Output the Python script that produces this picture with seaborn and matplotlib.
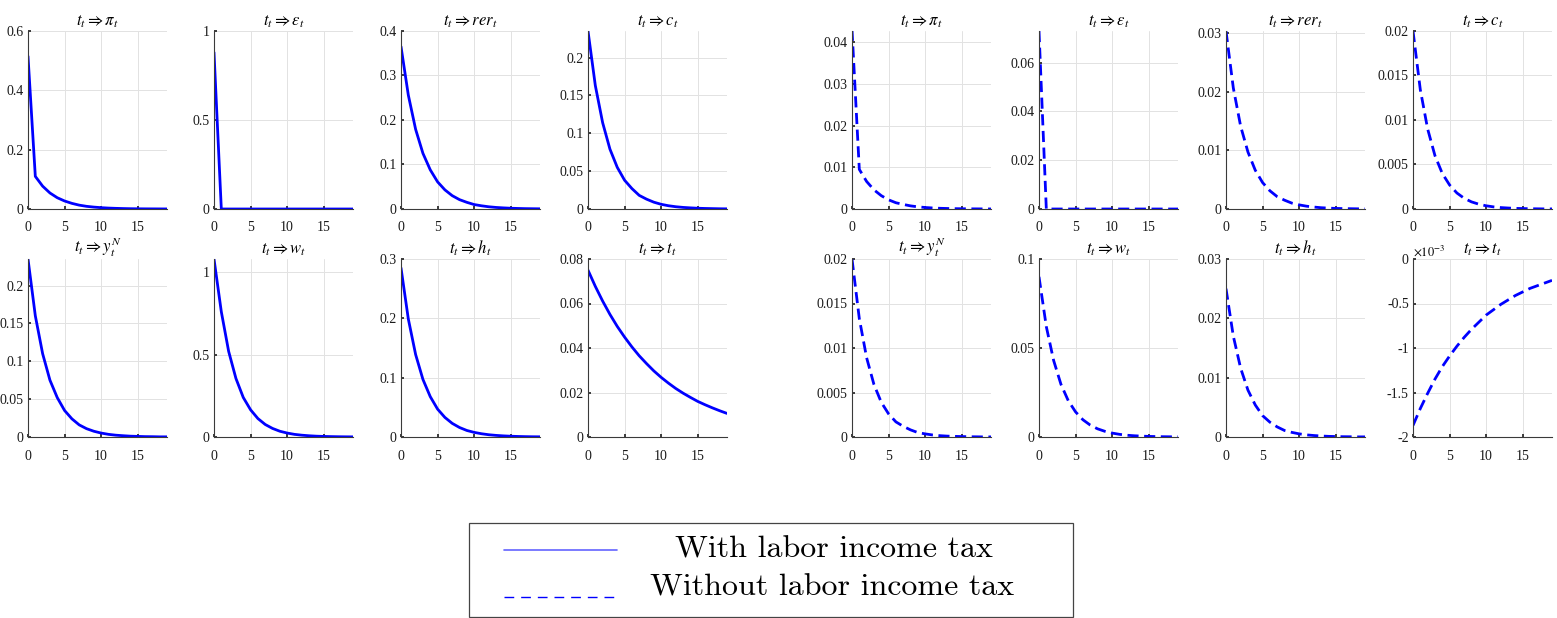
import matplotlib.pyplot as plt
import numpy as np
import seaborn as sns
from matplotlib.legend_handler import HandlerLine2D
from matplotlib.lines import Line2D
from matplotlib.patches import Rectangle
from matplotlib.ticker import FuncFormatter

# impulse responses to a labor income tax shock, horizon 0..19
periods = list(range(20))

titles = [
    r"$t_t \Rightarrow \pi_t$", r"$t_t \Rightarrow \varepsilon_t$",
    r"$t_t \Rightarrow rer_t$", r"$t_t \Rightarrow c_t$",
    r"$t_t \Rightarrow y_t^N$", r"$t_t \Rightarrow w_t$",
    r"$t_t \Rightarrow h_t$", r"$t_t \Rightarrow t_t$",
]

# with labor income tax (solid)
pi_with = [0.515, 0.11, 0.077, 0.054, 0.038, 0.027, 0.019, 0.013, 0.009, 0.0064,
           0.0045, 0.0031, 0.0022, 0.0015, 0.001, 0.0007, 0.0005, 0.0004, 0.0003, 0.0002]
eps_with = [0.88, 0, 0, 0, 0, 0, 0, 0, 0, 0, 0, 0, 0, 0, 0, 0, 0, 0, 0, 0]
rer_with = [0.365, 0.256, 0.179, 0.125, 0.088, 0.061, 0.043, 0.030, 0.021, 0.015,
            0.010, 0.0072, 0.0050, 0.0035, 0.0025, 0.0017, 0.0012, 0.0008, 0.0006, 0.0004]
c_with = [0.235, 0.163, 0.114, 0.079, 0.055, 0.038, 0.027, 0.018, 0.013, 0.009,
          0.0062, 0.0043, 0.003, 0.0021, 0.0015, 0.001, 0.0007, 0.0005, 0.0003, 0.0002]
yn_with = [0.235, 0.160, 0.110, 0.075, 0.052, 0.035, 0.024, 0.016, 0.011, 0.0076,
           0.0052, 0.0035, 0.0024, 0.0017, 0.0011, 0.0008, 0.0005, 0.0004, 0.0002, 0.0002]
w_with = [1.08, 0.76, 0.52, 0.355, 0.24, 0.165, 0.112, 0.076, 0.052, 0.035,
          0.024, 0.016, 0.011, 0.0075, 0.005, 0.0035, 0.0024, 0.0016, 0.0011, 0.0008]
h_with = [0.285, 0.199, 0.139, 0.097, 0.068, 0.047, 0.033, 0.023, 0.016, 0.011,
          0.0078, 0.0055, 0.0038, 0.0027, 0.0019, 0.0013, 0.0009, 0.0006, 0.0004, 0.0003]
tax_with = [0.075, 0.0677, 0.0611, 0.0551, 0.0497, 0.0449, 0.0405, 0.0365, 0.0330, 0.0297,
            0.0268, 0.0242, 0.0218, 0.0197, 0.0178, 0.0160, 0.0145, 0.0131, 0.0118, 0.0106]

# without labor income tax (dashed)
pi_without = [0.043, 0.0095, 0.0066, 0.0046, 0.0032, 0.0022, 0.0015, 0.0011, 0.00075, 0.00052,
              0.00036, 0.00025, 0.00017, 0.00012, 0.00008, 0.00006, 0.00004, 0.00003, 0.00002, 0.00001]
eps_without = [0.073, 0, 0, 0, 0, 0, 0, 0, 0, 0, 0, 0, 0, 0, 0, 0, 0, 0, 0, 0]
rer_without = [0.0303, 0.0206, 0.0141, 0.0097, 0.0066, 0.0045, 0.0031, 0.0021, 0.0015, 0.001,
               0.0007, 0.00048, 0.00033, 0.00022, 0.00015, 0.0001, 0.00007, 0.00005, 0.00003, 0.00002]
c_without = [0.020, 0.0134, 0.0090, 0.0060, 0.0040, 0.0027, 0.0018, 0.0012, 0.0008, 0.00054,
             0.00036, 0.00024, 0.00016, 0.00011, 0.00007, 0.00005, 0.00003, 0.00002, 0.00001, 0.00001]
yn_without = [0.020, 0.0133, 0.0089, 0.0059, 0.0039, 0.0026, 0.0017, 0.0012, 0.0008, 0.0005,
              0.00035, 0.00023, 0.00015, 0.0001, 0.00007, 0.00005, 0.00003, 0.00002, 0.00001, 0.00001]
w_without = [0.090, 0.062, 0.043, 0.0296, 0.0204, 0.0141, 0.0097, 0.0067, 0.0046, 0.0032,
             0.0022, 0.0015, 0.001, 0.0007, 0.0005, 0.00034, 0.00024, 0.00016, 0.00011, 0.00008]
h_without = [0.025, 0.017, 0.0116, 0.0079, 0.0054, 0.0036, 0.0025, 0.0017, 0.0011, 0.00078,
             0.00053, 0.00036, 0.00025, 0.00017, 0.00011, 0.00008, 0.00005, 0.00004, 0.00002, 0.00002]
tax_without = [-0.00187, -0.00168, -0.00151, -0.00135, -0.00121, -0.00109, -0.00098, -0.00088,
               -0.00079, -0.00071, -0.00063, -0.00057, -0.00051, -0.00046, -0.00041, -0.00037,
               -0.00033, -0.00030, -0.00027, -0.00024]

legend_labels = ["With labor income tax", "Without labor income tax"]

with_tax = [pi_with, eps_with, rer_with, c_with, yn_with, w_with, h_with, tax_with]
without_tax = [pi_without, eps_without, rer_without, c_without,
               yn_without, w_without, h_without, tax_without]

# axis limits / ticks per panel
ylims_with = [(0, 0.6), (0, 1), (0, 0.4), (0, 0.235), (0, 0.235), (0, 1.08), (0, 0.3), (0, 0.08)]
yticks_with = [[0, 0.2, 0.4, 0.6], [0, 0.5, 1], [0, 0.1, 0.2, 0.3, 0.4],
               [0, 0.05, 0.1, 0.15, 0.2], [0, 0.05, 0.1, 0.15, 0.2], [0, 0.5, 1],
               [0, 0.1, 0.2, 0.3], [0, 0.02, 0.04, 0.06, 0.08]]
ylims_without = [(0, 0.0427), (0, 0.073), (0, 0.0303), (0, 0.02), (0, 0.02), (0, 0.1),
                 (0, 0.03), (-0.002, 0)]
yticks_without = [[0, 0.01, 0.02, 0.03, 0.04], [0, 0.02, 0.04, 0.06], [0, 0.01, 0.02, 0.03],
                  [0, 0.005, 0.01, 0.015, 0.02], [0, 0.005, 0.01, 0.015, 0.02],
                  [0, 0.05, 0.1], [0, 0.01, 0.02, 0.03],
                  [-0.002, -0.0015, -0.001, -0.0005, 0]]

sns.set_theme(style="whitegrid", rc={
    "axes.edgecolor": "#3a3a3a", "axes.linewidth": 0.8,
    "grid.color": "#e2e2e2", "grid.linewidth": 0.7,
    "xtick.direction": "in", "ytick.direction": "in",
    "xtick.major.size": 2.5, "ytick.major.size": 2.5,
    "xtick.bottom": True, "ytick.left": True,
    "xtick.color": "#262626", "ytick.color": "#262626",
    "text.color": "black",
    "axes.spines.top": False, "axes.spines.right": False,
})
plt.rcParams["font.family"] = ["Liberation Serif", "DejaVu Serif"]
plt.rcParams["mathtext.fontset"] = "stix"

W, H = 1557, 618
fig = plt.figure(figsize=(W / 100, H / 100), dpi=100)

col_left = [28, 214, 401, 588, 852, 1039, 1226, 1413]
row_top = [31, 259]
ax_w, ax_h = 139, 178

groups = [
    (with_tax, ylims_with, yticks_with, "-"),
    (without_tax, ylims_without, yticks_without, (0, (4, 2))),
]

for g, (series, ylims, yticks, ls) in enumerate(groups):
    for k in range(8):
        col = g * 4 + k % 4
        row = k // 4
        ax = fig.add_axes([col_left[col] / W, 1 - (row_top[row] + ax_h) / H, ax_w / W, ax_h / H])
        sns.lineplot(x=periods, y=series[k], ax=ax, color="blue", lw=2.0,
                     linestyle=ls, estimator=None)
        ax.set_xlim(0, 19)
        ax.set_xticks([0, 5, 10, 15])
        ax.set_ylim(*ylims[k])
        ax.set_yticks(yticks[k])
        if g == 1 and k == 7:
            ax.yaxis.set_major_formatter(FuncFormatter(lambda v, _: f"{v * 1e3:g}"))
            ax.text(0, 1.0, r"$\times10^{-3}$", transform=ax.transAxes,
                    ha="left", va="bottom", fontsize=9)
        else:
            ax.yaxis.set_major_formatter(FuncFormatter(lambda v, _: f"{v:g}"))
        ax.tick_params(labelsize=10, labelcolor="#1a1a1a")
        ax.tick_params(axis="x", pad=9)
        ax.tick_params(axis="y", pad=3)
        ax.set_title(titles[k], fontsize=12, pad=4)
        ax.set_xlabel("")
        ax.set_ylabel("")


class LoweredLine(HandlerLine2D):
    # MATLAB draws the line samples a little under the text centre
    def __init__(self, drop, **kw):
        super().__init__(**kw)
        self.drop = drop

    def create_artists(self, *args, **kwargs):
        artists = super().create_artists(*args, **kwargs)
        for a in artists:
            a.set_ydata(np.asarray(a.get_ydata()) - self.drop)
        return artists


# legend, laid out like the MATLAB one (centred labels in a plain box)
handles = [
    Line2D([0], [0], color="#6464ff", lw=1.2),
    Line2D([0], [0], color="blue", lw=1.0, linestyle=(0, (7, 5))),
]
em = 23 * 100 / 72
for handle, label, y, text_x, drop in zip(handles, legend_labels, [549, 587], [675, 650], [3, 9]):
    fig.legend([handle], [label], loc="center left",
               bbox_to_anchor=(504 / W, 1 - y / H), frameon=False,
               prop={"family": "cmr10", "size": 23},
               handlelength=113 / em, handletextpad=(text_x - 617) / em,
               borderpad=0, borderaxespad=0,
               handler_map={Line2D: LoweredLine(drop)})
fig.add_artist(Rectangle((469 / W, 1 / H), 604 / W, 94 / H, transform=fig.transFigure,
                         fill=False, edgecolor="#444444", lw=0.9))

fig.savefig("out.png", dpi=100)
